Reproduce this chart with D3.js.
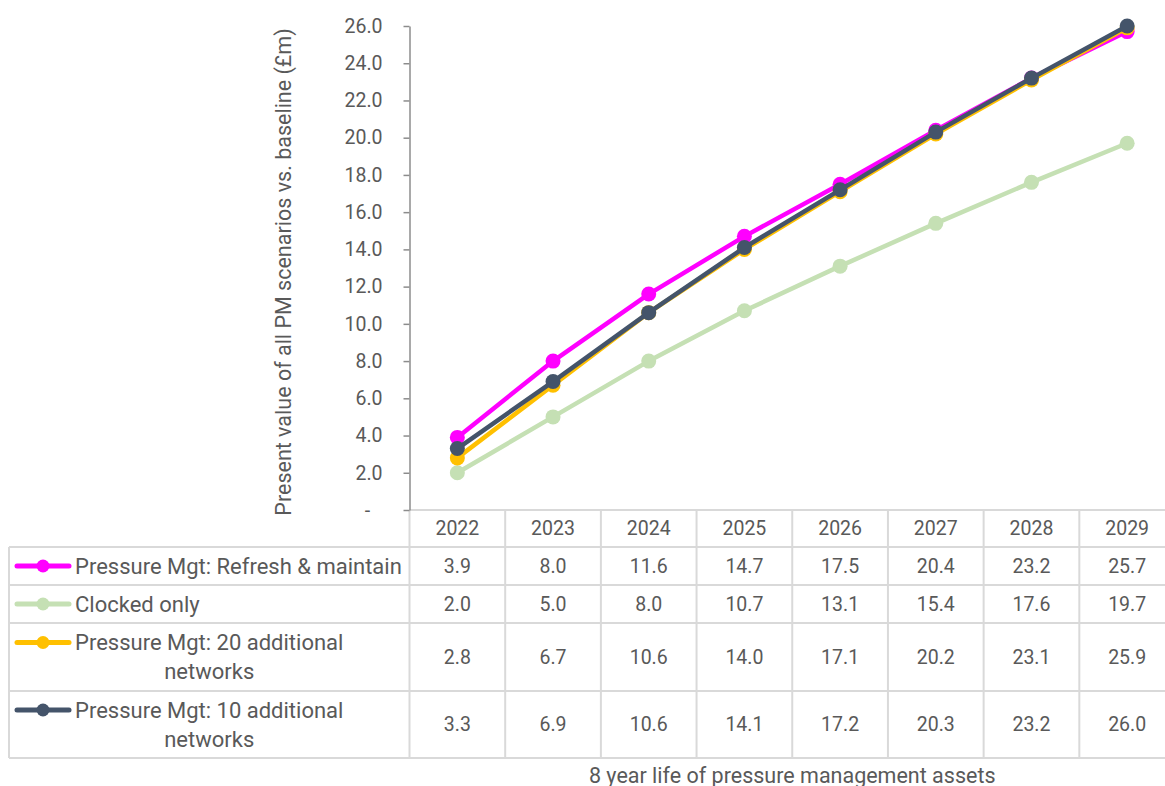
<!DOCTYPE html>
<html>
<head>
<meta charset="utf-8">
<script src="https://cdn.jsdelivr.net/npm/d3@7"></script>
<style>
  html, body { margin: 0; padding: 0; background: #ffffff; }
  svg { display: block; }
  text { font-family: Roboto, "Noto Sans", sans-serif; fill: #595959; }
</style>
</head>
<body>
<svg id="chart" width="1165" height="786"></svg>
<script>
// Years on the category axis
const years = ["2022", "2023", "2024", "2025", "2026", "2027", "2028", "2029"];

// Present value (£m) per scenario
const refreshMaintain = [3.9, 8.0, 11.6, 14.7, 17.5, 20.4, 23.2, 25.7];
const clockedOnly     = [2.0, 5.0, 8.0, 10.7, 13.1, 15.4, 17.6, 19.7];
const additional20    = [2.8, 6.7, 10.6, 14.0, 17.1, 20.2, 23.1, 25.9];
const additional10    = [3.3, 6.9, 10.6, 14.1, 17.2, 20.3, 23.2, 26.0];

// Series names as they wrap in the data table
const seriesLabels = [
  ["Pressure Mgt: Refresh & maintain"],
  ["Clocked only"],
  ["Pressure Mgt: 20 additional", "networks"],
  ["Pressure Mgt: 10 additional", "networks"]
];
const seriesColors = ["#FF00FF", "#C5E0B4", "#FFC000", "#44546A"];

// Y axis tick values
const yTicks = [0, 2, 4, 6, 8, 10, 12, 14, 16, 18, 20, 22, 24, 26];

const yTitle = "Present value of all PM scenarios vs. baseline (£m)";
const xTitle = "8 year life of pressure management assets";

const seriesValues = [refreshMaintain, clockedOnly, additional20, additional10];
const series = seriesValues.map((vals, i) => ({
  labels: seriesLabels[i],
  color: seriesColors[i],
  values: vals.map((v, j) => ({ year: years[j], value: v }))
}));

const svg = d3.select("#chart");

const plotLeft = 409.5, plotRight = 1175, plotTop = 26, plotBottom = 510;
const tableLeft = 9;
// Data-table row boundaries: header, then one row per series
const rowEdges = [510, 547, 585, 623, 691, 758];

const x = d3.scaleBand().domain(years).range([plotLeft, plotRight]);
const y = d3.scaleLinear().domain([0, 26]).range([plotBottom, plotTop]);

const numSize = 19.5;    // numbers: ticks, years, cell values
const wordSize = 21.5;   // axis titles
const legendSize = 22;   // series names in the table
const gridColor = "#d9d9d9";
const axisColor = "#8c8c8c";

// ---- data table grid ----
const grid = svg.append("g").attr("stroke", gridColor).attr("stroke-width", 2);
// header row top
grid.append("line").attr("x1", plotLeft).attr("x2", plotRight)
  .attr("y1", rowEdges[0]).attr("y2", rowEdges[0]);
// series rows
rowEdges.slice(1).forEach(ry => {
  grid.append("line").attr("x1", tableLeft).attr("x2", plotRight)
    .attr("y1", ry).attr("y2", ry);
});
// left edge of legend column
grid.append("line").attr("x1", tableLeft).attr("x2", tableLeft)
  .attr("y1", rowEdges[1]).attr("y2", rowEdges[rowEdges.length - 1]);
// column separators
years.forEach(yr => {
  const cx = x(yr);
  grid.append("line").attr("x1", cx).attr("x2", cx)
    .attr("y1", rowEdges[0]).attr("y2", rowEdges[rowEdges.length - 1]);
});
grid.append("line").attr("x1", plotRight).attr("x2", plotRight)
  .attr("y1", rowEdges[0]).attr("y2", rowEdges[rowEdges.length - 1]);

// header years
svg.append("g").selectAll("text").data(years).join("text")
  .attr("x", d => x(d) + x.bandwidth() / 2)
  .attr("y", (rowEdges[0] + rowEdges[1]) / 2)
  .attr("text-anchor", "middle")
  .attr("dominant-baseline", "central")
  .attr("font-size", numSize)
  .text(d => d);

// value cells
series.forEach((s, i) => {
  const cy = (rowEdges[i + 1] + rowEdges[i + 2]) / 2;
  svg.append("g").selectAll("text").data(s.values).join("text")
    .attr("x", d => x(d.year) + x.bandwidth() / 2)
    .attr("y", cy)
    .attr("text-anchor", "middle")
    .attr("dominant-baseline", "central")
    .attr("font-size", numSize)
    .text(d => d.value.toFixed(1));
});

// legend keys and series names
const lineGap = 29;
series.forEach((s, i) => {
  const top = rowEdges[i + 1], bottom = rowEdges[i + 2];
  const mid = (top + bottom) / 2;
  const n = s.labels.length;
  const firstY = mid - (n - 1) * lineGap / 2;
  const key = svg.append("g");
  key.append("line")
    .attr("x1", 17).attr("x2", 69).attr("y1", firstY).attr("y2", firstY)
    .attr("stroke", s.color).attr("stroke-width", 5).attr("stroke-linecap", "round");
  key.append("circle").attr("cx", 43).attr("cy", firstY).attr("r", 6.5)
    .attr("fill", s.color);

  const first = svg.append("text")
    .attr("x", 75).attr("y", firstY)
    .attr("dominant-baseline", "central")
    .attr("font-size", legendSize)
    .text(s.labels[0]);
  const w = first.node().getComputedTextLength();
  s.labels.slice(1).forEach((t, k) => {
    svg.append("text")
      .attr("x", 75 + w / 2).attr("y", firstY + (k + 1) * lineGap)
      .attr("text-anchor", "middle")
      .attr("dominant-baseline", "central")
      .attr("font-size", legendSize)
      .text(t);
  });
});

// ---- y axis ----
const yAxis = d3.axisLeft(y)
  .tickValues(yTicks)
  .tickSize(6)
  .tickSizeOuter(0)
  .tickPadding(21)
  .tickFormat(d => d === 0 ? "-" : d.toFixed(1));

const gy = svg.append("g")
  .attr("transform", `translate(${plotLeft},0)`)
  .call(yAxis);
gy.select(".domain").attr("stroke", axisColor).attr("stroke-width", 1.5);
gy.selectAll(".tick line").attr("stroke", axisColor).attr("stroke-width", 1.5);
gy.selectAll(".tick text")
  .attr("font-size", numSize)
  .attr("font-family", null)
  .attr("fill", "#595959");
gy.selectAll(".tick text").filter(d => d === 0)
  .attr("text-anchor", "middle").attr("x", -42);

// axis titles
svg.append("text")
  .attr("transform", `translate(283,${(plotTop + plotBottom) / 2 + 4}) rotate(-90)`)
  .attr("text-anchor", "middle")
  .attr("dominant-baseline", "central")
  .attr("font-size", wordSize)
  .text(yTitle);

svg.append("text")
  .attr("x", (plotLeft + plotRight) / 2)
  .attr("y", 775)
  .attr("text-anchor", "middle")
  .attr("dominant-baseline", "central")
  .attr("font-size", wordSize)
  .text(xTitle);

// ---- lines and markers ----
const line = d3.line()
  .x(d => x(d.year) + x.bandwidth() / 2)
  .y(d => y(d.value));

series.forEach(s => {
  const g = svg.append("g");
  g.append("path").datum(s.values)
    .attr("d", line)
    .attr("fill", "none")
    .attr("stroke", s.color)
    .attr("stroke-width", 4.5)
    .attr("stroke-linejoin", "round");
  g.selectAll("circle").data(s.values).join("circle")
    .attr("cx", d => x(d.year) + x.bandwidth() / 2)
    .attr("cy", d => y(d.value))
    .attr("r", 7.5)
    .attr("fill", s.color);
});
</script>
</body>
</html>
